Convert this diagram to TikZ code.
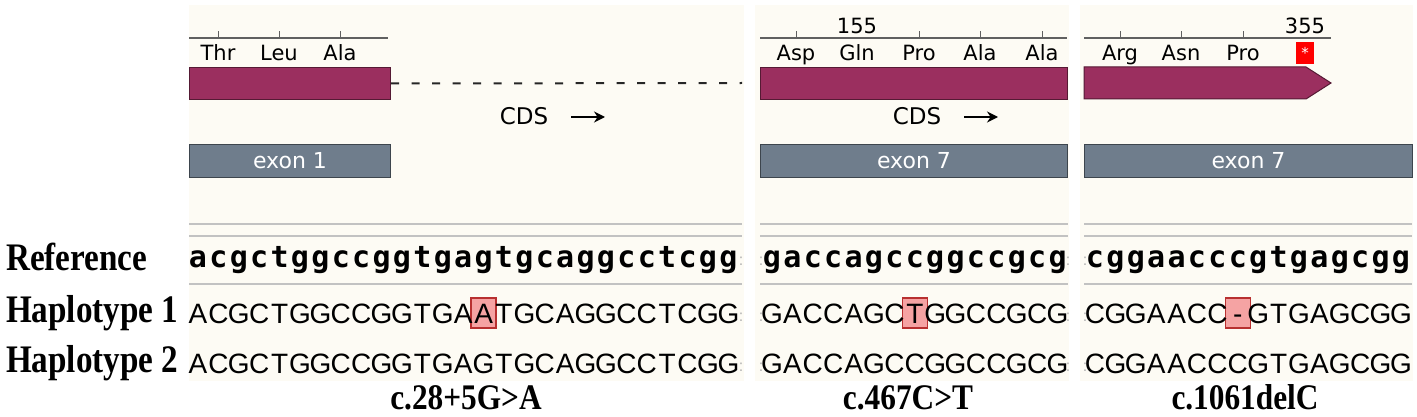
\documentclass[tikz,border=0pt]{standalone}
\usepackage{fontspec}
\setmainfont{Liberation Serif}
\newfontfamily\uifont{DejaVu Sans}
\newfontfamily\monofont{DejaVu Sans Mono}
\newfontfamily\hapfont{Liberation Sans}
\usetikzlibrary{arrows.meta}
\definecolor{cream}{HTML}{FDFBF4}
\definecolor{cdsmag}{HTML}{9B2F5F}
\definecolor{exongray}{HTML}{6F7D8C}
\definecolor{rulergray}{HTML}{606060}
\definecolor{sepgray}{HTML}{C2C2C2}
\definecolor{mutfill}{HTML}{F5A3A3}
\definecolor{mutdraw}{HTML}{B83030}
\definecolor{stopred}{HTML}{FF0000}
\tikzset{
  panel/.style={fill=cream, draw=none},
  ruler/.style={draw=rulergray, line width=1.2pt},
  tick/.style={draw=rulergray, line width=1pt},
  aa/.style={font=\uifont\fontsize{21}{21}\selectfont, text=black, inner sep=0, anchor=base},
  cdslbl/.style={font=\uifont\fontsize{23}{23}\selectfont, text=black, inner sep=0, anchor=base},
  cdsbar/.style={fill=cdsmag, draw=cdsmag!55!black, line width=1pt, inner sep=0, anchor=north west, minimum height=32},
  exonbar/.style={fill=exongray, draw=exongray!55!black, line width=1pt, inner sep=0, anchor=north west, minimum height=33, text=white, font=\uifont\fontsize{22}{22}\selectfont},
  cdsarrow/.style={-{Stealth[length=11pt,width=11pt]}, line width=2.6pt, black},
  sepline/.style={draw=sepgray, line width=1.6pt},
  refch/.style={font=\monofont\bfseries\fontsize{30}{30}\selectfont, inner sep=0, anchor=base},
  hapch/.style={font=\hapfont\fontsize{28}{28}\selectfont, inner sep=0, anchor=base},
  rowlbl/.style={font=\bfseries\fontsize{39}{39}\selectfont, inner sep=0, anchor=base west, xscale=0.85},
  mutlbl/.style={font=\bfseries\fontsize{36}{36}\selectfont, inner sep=0, anchor=base, xscale=0.87},
  mutbox/.style={fill=mutfill, draw=mutdraw, line width=1.3pt, minimum width=25, minimum height=30, inner sep=0},
  dots/.style={font=\hapfont\fontsize{16}{16}\selectfont, text=gray!60, inner sep=0, anchor=base},
}
\newcommand\seqrow[5]{%
  \foreach \ch [count=\k from 0] in {#5} {\node[#1, name=#4\k] at ({#2+\k*20.4},#3) {\ch};}}
\begin{document}
\begin{tikzpicture}[x=1pt,y=-1pt]
\useasboundingbox (0,0) rectangle (1417,417);
\fill[white] (0,0) rectangle (1417,417);
% panels
\fill[panel] (189,5) rectangle (744,381);
\fill[panel] (755,5) rectangle (1069,381);
\fill[panel] (1080,5) rectangle (1413,381);

% ---------- panel 1 ----------
\draw[ruler] (189,38) -- (388,38);
\foreach \x in {218,279,340} \draw[tick] (\x,38) -- (\x,31);
\node[aa] (p1a1) at (218,61) {Thr};
\node[aa] (p1a2) at (279,61) {Leu};
\node[aa] (p1a3) at (340,61) {Ala};
\node[cdsbar, minimum width=201] (cds1) at (189,67) {};
\coordinate (cds1end) at (742,83);
\draw[dash pattern=on 8pt off 12.5pt, line width=2pt, black!85] (cds1.east) -- (cds1end);
\node[cdslbl] (cdst1) at (524,125) {CDS};
\coordinate (a1s) at (571,117);
\coordinate (a1e) at (605,117);
\draw[cdsarrow] (a1s) -- (a1e);
\node[exonbar, minimum width=201] (ex1) at (189,144) {exon 1};

% ---------- panel 2 ----------
\draw[ruler] (760,38) -- (1067,38);
\foreach \x in {796,919,980,1042} \draw[tick] (\x,38) -- (\x,31);
\node[aa] (n155) at (857,34) {155};
\node[aa] (p2a1) at (796,61) {Asp};
\node[aa] (p2a2) at (857,61) {Gln};
\node[aa] (p2a3) at (919,61) {Pro};
\node[aa] (p2a4) at (980,61) {Ala};
\node[aa] (p2a5) at (1042,61) {Ala};
\node[cdsbar, minimum width=307] (cds2) at (760,67) {};
\node[cdslbl] (cdst2) at (917,125) {CDS};
\coordinate (a2s) at (964,117);
\coordinate (a2e) at (998,117);
\draw[cdsarrow] (a2s) -- (a2e);
\node[exonbar, minimum width=307] (ex2) at (760,144) {exon 7};

% ---------- panel 3 ----------
\draw[ruler] (1084,38) -- (1331,38);
\foreach \x in {1120,1181,1243} \draw[tick] (\x,38) -- (\x,31);
\node[aa] (n355) at (1305,34) {355};
\node[aa] (p3a1) at (1120,61) {Arg};
\node[aa] (p3a2) at (1181,61) {Asn};
\node[aa] (p3a3) at (1243,61) {Pro};
\node[fill=stopred, minimum width=18, minimum height=22, inner sep=0, text=white, font=\uifont\fontsize{15}{15}\selectfont] (stop) at (1305,53) {*};
\fill[cdsmag, draw=cdsmag!55!black, line width=1pt] (1084,67) -- (1306,67) -- (1331,83) -- (1306,99) -- (1084,99) -- cycle;
\node[exonbar, minimum width=328] (ex3) at (1084,144) {exon 7};

% ---------- separator lines ----------
\foreach \y in {224,236,284} {
  \draw[sepline] (189,\y) -- (742,\y);
  \draw[sepline] (760,\y) -- (1068,\y);
  \draw[sepline] (1084,\y) -- (1412,\y);
}

% ---------- row labels ----------
\node[rowlbl] (lref) at (6,270) {Reference};
\node[rowlbl] (lh1) at (6,322) {Haplotype 1};
\node[rowlbl] (lh2) at (6,372) {Haplotype 2};

% ---------- mutation boxes ----------
\node[mutbox] (m1) at ({198+14*20.4},313) {};
\node[mutbox] (m2) at ({772+7*20.4},313) {};
\node[mutbox] (m3) at ({1095+7*20.4},313) {};

% ---------- sequences ----------
\seqrow{refch}{198}{267}{r1c}{a,c,g,c,t,g,g,c,c,g,g,t,g,a,g,t,g,c,a,g,g,c,c,t,c,g,g}
\seqrow{hapch}{198}{323}{h1a}{A,C,G,C,T,G,G,C,C,G,G,T,G,A,A,T,G,C,A,G,G,C,C,T,C,G,G}
\seqrow{hapch}{198}{373}{h2a}{A,C,G,C,T,G,G,C,C,G,G,T,G,A,G,T,G,C,A,G,G,C,C,T,C,G,G}
\seqrow{refch}{772}{267}{r2c}{g,a,c,c,a,g,c,c,g,g,c,c,g,c,g}
\seqrow{hapch}{772}{323}{h1b}{G,A,C,C,A,G,C,T,G,G,C,C,G,C,G}
\seqrow{hapch}{772}{373}{h2b}{G,A,C,C,A,G,C,C,G,G,C,C,G,C,G}
\seqrow{refch}{1095}{267}{r3c}{c,g,g,a,a,c,c,c,g,t,g,a,g,c,g,g}
\seqrow{hapch}{1095}{323}{h1c}{C,G,G,A,A,C,C,-,G,T,G,A,G,C,G,G}
\seqrow{hapch}{1095}{373}{h2c}{C,G,G,A,A,C,C,C,G,T,G,A,G,C,G,G}

% faint separators between panels
\foreach \y [count=\j] in {265,321,371} {
  \node[dots] (d1\j) at (741,\y) {:};
  \node[dots] (d2\j) at (761,\y) {:};
  \node[dots] (d3\j) at (1068,\y) {:};
  \node[dots] (d4\j) at (1085,\y) {:};
}

% ---------- mutation names ----------
\node[mutlbl] (mn1) at (466,409) {c.28+5G>A};
\node[mutlbl] (mn2) at (908,409) {c.467C>T};
\node[mutlbl] (mn3) at (1245,409) {c.1061delC};
\end{tikzpicture}
\end{document}
